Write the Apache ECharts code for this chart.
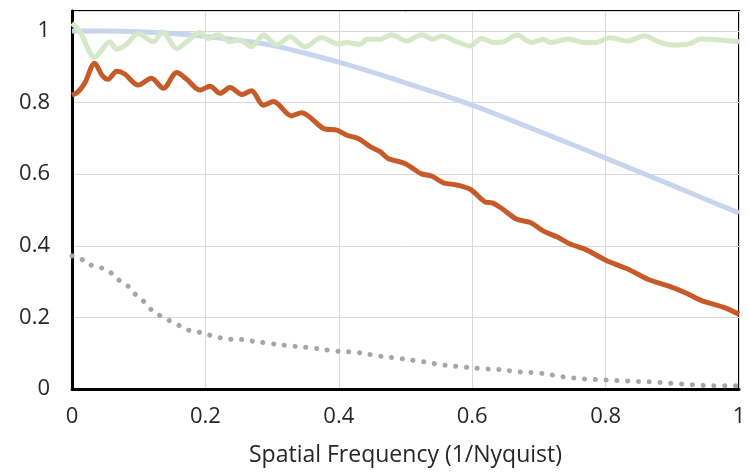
<!DOCTYPE html>
<html><head><meta charset="utf-8">
<script src="https://cdn.jsdelivr.net/npm/echarts@6/dist/echarts.min.js"></script>
<style>html,body{margin:0;padding:0;background:#fff}#c{width:749px;height:473px}</style>
</head><body><div id="c"></div>
<script>
var xTicks = [0, 0.2, 0.4, 0.6, 0.8, 1];
var yTicks = [0, 0.2, 0.4, 0.6, 0.8, 1];
var axisTitle = 'Spatial Frequency (1/Nyquist)';

var xBlue = [0,0.05,0.1,0.15,0.2,0.25,0.3,0.35,0.4,0.45,0.5,0.55,0.6,0.65,0.7,0.75,0.8,0.85,0.9,0.95,1.0];
var yBlue = [1.0,1.0,0.998,0.993,0.985,0.974,0.96,0.938,0.913,0.885,0.855,0.825,0.793,0.757,0.72,0.683,0.645,0.607,0.569,0.53,0.492];

var xGreen = [0,0.012,0.034,0.057,0.067,0.082,0.099,0.122,0.136,0.157,0.172,0.192,0.204,0.219,0.237,0.252,0.269,0.287,0.307,0.327,0.349,0.374,0.399,0.412,0.432,0.442,0.462,0.479,0.502,0.524,0.542,0.554,0.577,0.597,0.614,0.632,0.647,0.667,0.689,0.707,0.717,0.744,0.767,0.784,0.807,0.832,0.859,0.877,0.899,0.927,0.942,0.972,1.0];
var yGreen = [1.022,0.998,0.927,0.970,0.949,0.964,0.993,0.970,0.998,0.951,0.970,0.996,0.979,0.990,0.970,0.975,0.956,0.989,0.961,0.984,0.956,0.981,0.964,0.968,0.963,0.977,0.977,0.990,0.972,0.990,0.977,0.986,0.970,0.958,0.979,0.968,0.970,0.989,0.968,0.977,0.968,0.978,0.968,0.968,0.981,0.972,0.987,0.972,0.961,0.965,0.978,0.975,0.970];

var xOrange = [0,0.009,0.019,0.034,0.045,0.054,0.067,0.079,0.099,0.119,0.137,0.157,0.172,0.192,0.207,0.222,0.237,0.255,0.269,0.287,0.302,0.329,0.344,0.377,0.397,0.412,0.429,0.447,0.462,0.474,0.499,0.524,0.539,0.557,0.577,0.597,0.619,0.630,0.644,0.667,0.687,0.707,0.727,0.747,0.772,0.802,0.837,0.864,0.897,0.922,0.944,0.977,1.0];
var yOrange = [0.821,0.830,0.854,0.910,0.877,0.865,0.888,0.880,0.849,0.868,0.840,0.884,0.865,0.835,0.846,0.826,0.842,0.823,0.833,0.793,0.803,0.763,0.772,0.728,0.723,0.709,0.700,0.677,0.663,0.644,0.630,0.601,0.595,0.576,0.570,0.558,0.523,0.520,0.505,0.474,0.465,0.441,0.425,0.405,0.388,0.358,0.332,0.306,0.286,0.267,0.247,0.228,0.209];

var xGrey = [0,0.017,0.031,0.046,0.061,0.073,0.087,0.097,0.108,0.118,0.132,0.146,0.158,0.172,0.188,0.201,0.217,0.233,0.249,0.265,0.298,0.330,0.363,0.395,0.428,0.460,0.493,0.524,0.557,0.589,0.622,0.638,0.671,0.703,0.736,0.769,0.802,0.834,0.867,0.899,0.931,0.964,1.0];
var yGrey = [0.372,0.360,0.344,0.337,0.321,0.300,0.283,0.260,0.244,0.223,0.205,0.191,0.180,0.166,0.160,0.153,0.146,0.139,0.139,0.135,0.127,0.120,0.114,0.106,0.102,0.092,0.085,0.077,0.067,0.061,0.056,0.055,0.048,0.044,0.034,0.028,0.025,0.022,0.020,0.016,0.012,0.009,0.009];

function pairs(xs, ys){ return xs.map(function(x,i){ return [x, ys[i]]; }); }

var font = '"Open Sans", "Noto Sans", sans-serif';
var txt = '#262626';
var chart = echarts.init(document.getElementById('c'), null, {renderer:'canvas'});
chart.setOption({
  animation: false,
  backgroundColor: '#fff',
  grid: {left: 72, right: 10, top: 11, bottom: 84, show: true, borderColor: '#000', borderWidth: 2, containLabel: false},
  xAxis: {
    type: 'value', min: 0, max: 1, interval: 0.2,
    name: axisTitle, nameLocation: 'middle', nameGap: 55,
    nameTextStyle: {fontFamily: font, fontSize: 23, color: txt},
    axisLine: {show: true, onZero: false, lineStyle: {color: '#000', width: 3}},
    axisTick: {show: false},
    axisLabel: {fontFamily: font, fontSize: 22, color: txt, margin: 17,
      formatter: function(v){ var t = xTicks.filter(function(k){return Math.abs(k-v)<1e-6;}); return t.length ? String(t[0]) : ''; }},
    splitLine: {show: true, lineStyle: {color: '#d9d9d9', width: 1}}
  },
  yAxis: {
    type: 'value', min: 0, max: 1.056, interval: 0.2,
    axisLine: {show: true, onZero: false, lineStyle: {color: '#000', width: 3}},
    axisTick: {show: false},
    axisLabel: {fontFamily: font, fontSize: 22, color: txt, margin: 22, showMaxLabel: false,
      formatter: function(v){ var t = yTicks.filter(function(k){return Math.abs(k-v)<1e-6;}); return t.length ? String(t[0]) : ''; }},
    splitLine: {show: true, lineStyle: {color: '#d9d9d9', width: 1}}
  },
  series: [
    {type: 'line', data: pairs(xBlue, yBlue), showSymbol: false, smooth: 0.4, z: 2,
     lineStyle: {color: '#c8d5ee', width: 5}},
    {type: 'line', data: pairs(xGreen, yGreen), showSymbol: false, smooth: 0.3, z: 3,
     lineStyle: {color: '#d5e8c8', width: 5}},
    {type: 'line', data: pairs(xOrange, yOrange), showSymbol: false, smooth: 0.3, z: 4,
     lineStyle: {color: '#c65a28', width: 5}},
    {type: 'line', data: pairs(xGrey, yGrey), showSymbol: false, smooth: 0.4, z: 5,
     lineStyle: {color: '#a6a6a6', width: 5, type: [0.1, 10.7], cap: 'round'}}
  ]
});
</script></body></html>
